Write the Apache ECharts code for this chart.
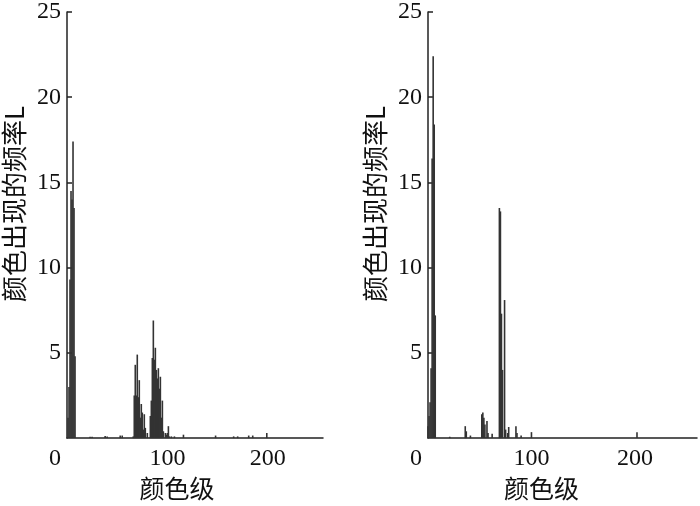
<!DOCTYPE html>
<html>
<head>
<meta charset="utf-8">
<script src="https://cdn.jsdelivr.net/npm/echarts@6/dist/echarts.min.js"></script>
<style>
html,body{margin:0;padding:0;background:#fff;}
#chart{width:700px;height:506px;}
</style>
</head>
<body>
<div id="chart"></div>
<script>
// Left histogram (before)
const leftLevels = [1,2,3,4,5,6,7,8,23,25,38,40,53,55,
  66,67,68,69,70,71,72,73,74,75,76,77,78,80,
  83,84,85,86,87,88,89,90,91,92,93,94,95,96,98,99,100,101,102,104,
  107,116,148,166,170,181,185,199];
const leftFreq = [1.2,3.0,9.3,14.5,14.0,17.4,13.5,4.8,0.08,0.08,0.12,0.1,0.15,0.15,
  0.1,2.5,4.3,2.5,4.9,2.4,3.4,1.2,2.0,1.5,0.5,1.4,0.6,0.3,
  1.3,2.2,4.7,6.9,4.6,5.3,4.0,3.5,4.1,2.9,3.6,1.2,2.2,0.4,0.3,0.2,0.3,0.7,0.1,0.1,
  0.1,0.2,0.15,0.1,0.1,0.15,0.15,0.3];

// Right histogram (after)
const rightLevels = [0,1,2,3,4,5,6,7,21,36,37,41,52,53,54,55,57,58,62,
  69,70,71,72,74,75,77,78,85,86,90,100,202];
const rightFreq = [0.7,1.3,2.1,4.1,16.4,22.4,18.4,7.2,0.08,0.7,0.4,0.15,1.4,1.5,1.2,0.8,1.0,0.3,0.25,
  13.5,13.3,7.3,4.0,8.1,0.5,0.3,0.65,0.7,0.3,0.15,0.35,0.35];

const xTicks = [0, 100, 200];
const yTicks = [5, 10, 15, 20, 25];
const xName = '颜色级';
const yName = '颜色出现的频率L';

const numFont = 'Liberation Serif';
const cjkFont = 'Noto Sans CJK SC';

function pairs(xs, ys){ return xs.map((x,i)=>[x, ys[i]]); }

function xAxisCfg(idx, max, namePad){
  return {
    type:'value', gridIndex: idx, min: 0, max: max, interval: 100,
    name: xName, nameLocation:'middle', nameGap: 36,
    nameTextStyle:{fontFamily:cjkFont, fontSize:25, color:'#111', padding:[0,namePad,0,0]},
    axisLine:{show:true, lineStyle:{color:'#222', width:1.5}},
    axisTick:{show:false},
    splitLine:{show:false},
    axisLabel:{
      show:true, showMaxLabel:false, margin:9,
      fontFamily:numFont, fontSize:24, color:'#111',
      formatter: function(v){ return xTicks.indexOf(v) >= 0 ? (v===0 ? '{z|0}' : String(v)) : ''; },
      rich:{ z:{fontFamily:numFont, fontSize:24, color:'#111', padding:[0,24,0,0]} }
    }
  };
}
function yAxisCfg(idx){
  return {
    type:'value', gridIndex: idx, min:0, max:25, interval:5,
    name: yName, nameLocation:'middle', nameGap: 40, nameRotate: 90,
    nameTextStyle:{fontFamily:cjkFont, fontSize:26, color:'#111', padding:[0,0,0,42]},
    axisLine:{show:true, lineStyle:{color:'#222', width:1.5}},
    axisTick:{show:true, inside:true, length:5, lineStyle:{color:'#222', width:1.5}},
    splitLine:{show:false},
    axisLabel:{
      showMinLabel:false, margin:6,
      fontFamily:numFont, fontSize:24, color:'#111',
      formatter: function(v){ return yTicks.indexOf(v) >= 0 ? String(v) : ''; }
    }
  };
}

const chart = echarts.init(document.getElementById('chart'), null, {renderer:'canvas'});
chart.setOption({
  animation:false,
  backgroundColor:'#fff',
  grid:[
    {left:65, right:377, top:6, bottom:64},
    {left:428, right:3, top:10, bottom:59}
  ],
  xAxis:[ xAxisCfg(0, 255, 36), xAxisCfg(1, 260, 42) ],
  yAxis:[ yAxisCfg(0), yAxisCfg(1) ],
  series:[
    {type:'bar', xAxisIndex:0, yAxisIndex:0, data: pairs(leftLevels, leftFreq),
     barWidth:1.6, itemStyle:{color:'#333'}},
    {type:'bar', xAxisIndex:1, yAxisIndex:1, data: pairs(rightLevels, rightFreq),
     barWidth:1.6, itemStyle:{color:'#333'}}
  ]
});
</script>
</body>
</html>
